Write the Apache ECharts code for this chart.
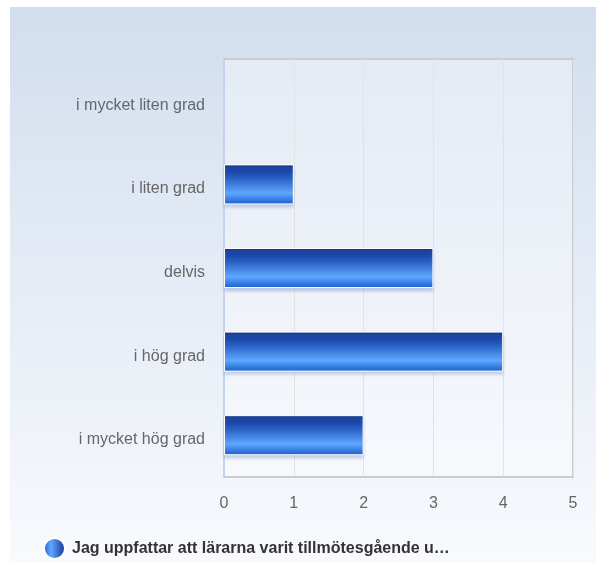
<!DOCTYPE html>
<html>
<head>
<meta charset="utf-8">
<script src="https://cdn.jsdelivr.net/npm/echarts@6/dist/echarts.min.js"></script>
<style>
html,body{margin:0;padding:0;background:#fff;}
#chart{position:absolute;left:10px;top:7px;width:586px;height:556px;}
</style>
</head>
<body>
<div id="chart"></div>
<script>
var categories = ["i mycket liten grad", "i liten grad", "delvis", "i hög grad", "i mycket hög grad"];
var seriesName = "Jag uppfattar att lärarna varit tillmötesgående u…";
var values = [0, 1, 3, 4, 2];
var xTicks = [0, 1, 2, 3, 4, 5];

var chart = echarts.init(document.getElementById('chart'));
var barGradient = new echarts.graphic.LinearGradient(0, 0, 0, 1, [
  {offset: 0, color: '#0b2e8c'},
  {offset: 0.35, color: '#2a5fc4'},
  {offset: 0.72, color: '#5ea8ff'},
  {offset: 1, color: '#1a5ccc'}
]);
var barData = values.map(function (v) {
  return v === 0 ? {value: v, itemStyle: {opacity: 0, borderWidth: 0, shadowBlur: 0}} : {value: v};
});
var option = {
  animation: false,
  backgroundColor: new echarts.graphic.LinearGradient(0, 0, 0, 1, [
    {offset: 0, color: '#d2deee'},
    {offset: 1, color: '#f8fafd'}
  ]),
  textStyle: {fontFamily: 'Liberation Sans, Arial, sans-serif'},
  grid: {left: 214, top: 52, width: 349, height: 418, show: true,
    backgroundColor: 'rgba(255,255,255,0.35)', borderColor: '#cccccc', borderWidth: 2},
  legend: {
    left: 33, top: 530, itemWidth: 21, itemHeight: 21, itemGap: 8, padding: 0,
    icon: 'circle',
    textStyle: {fontSize: 16, fontWeight: 'bold', color: '#333333', fontFamily: 'Liberation Sans, Arial, sans-serif', padding: [0, 0, 0, 2]},
    data: [{name: seriesName, itemStyle: {color: new echarts.graphic.LinearGradient(0, 0, 1, 0, [
      {offset: 0, color: '#1a5ccc'}, {offset: 0.35, color: '#5ea8ff'}, {offset: 1, color: '#0b2e8c'}
    ])}}]
  },
  xAxis: {
    type: 'value', min: 0, max: 5, interval: 1,
    axisLine: {show: false}, axisTick: {show: false},
    splitLine: {show: true, lineStyle: {color: '#e2e2e2', width: 1}},
    axisLabel: {color: '#666666', fontSize: 16, margin: 19,
      formatter: function (v) { return xTicks.indexOf(v) >= 0 ? String(v) : ''; }}
  },
  yAxis: {
    type: 'category', inverse: true, data: categories,
    axisLine: {show: true, lineStyle: {color: '#c4d2ee', width: 2}},
    axisTick: {show: false},
    axisLabel: {color: '#666666', fontSize: 16, margin: 19,
      formatter: function (v) { return '{a|' + v + '}'; },
      rich: {a: {color: '#666666', fontSize: 16, fontFamily: 'Liberation Sans, Arial, sans-serif', padding: [9, 0, 0, 0]}}}
  },
  series: [{
    name: seriesName, type: 'bar', data: barData, barWidth: 40,
    itemStyle: {color: barGradient, borderColor: '#ffffff', borderWidth: 1,
      shadowColor: 'rgba(120,150,200,0.45)', shadowBlur: 3, shadowOffsetY: 3}
  }]
};
chart.setOption(option);
</script>
</body>
</html>
